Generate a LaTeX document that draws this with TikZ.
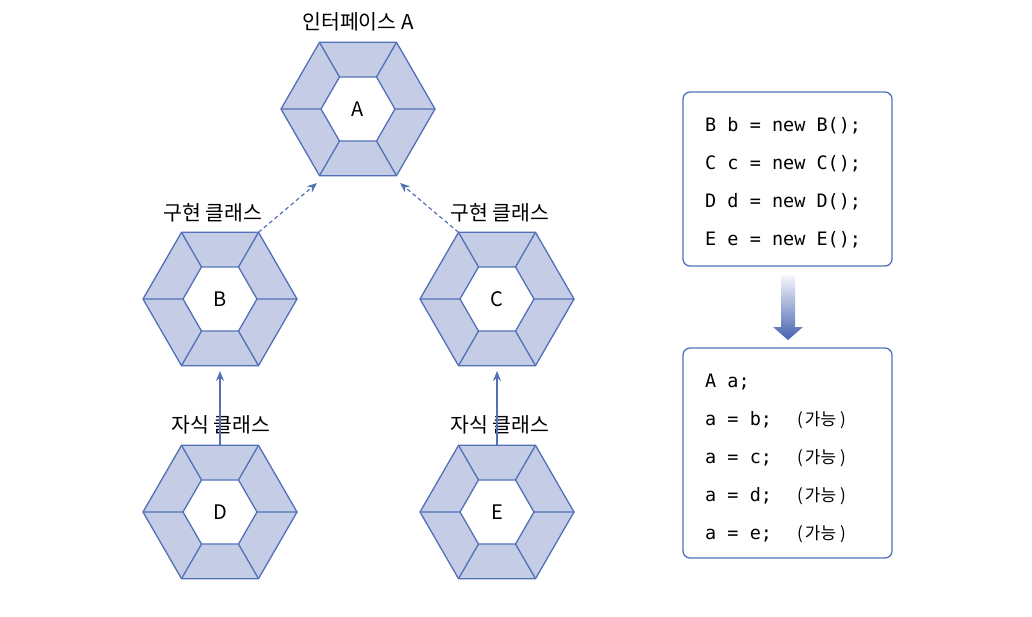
\documentclass[tikz,border=0pt]{standalone}
\usepackage{fontspec}
\setmainfont{Noto Sans}
\newfontfamily\cjk{Noto Sans CJK KR}
\setmonofont{DejaVu Sans Mono}
\usetikzlibrary{shapes.geometric,arrows.meta}
\definecolor{hexfill}{RGB}{196,204,230}
\definecolor{hexline}{RGB}{82,112,183}
\definecolor{arrowblue}{RGB}{68,97,176}
\begin{document}
\begin{tikzpicture}[x=1pt,y=-1pt,
  hexout/.style={regular polygon, regular polygon sides=6, minimum size=154pt, inner sep=0pt, outer sep=0pt, draw=hexline, fill=hexfill, line width=1.3pt},
  hexin/.style={regular polygon, regular polygon sides=6, minimum size=74pt, inner sep=0pt, outer sep=0pt, draw=hexline, fill=white, line width=1.3pt, font=\cjk\fontsize{20}{22}\selectfont},
  lbl/.style={font=\cjk\fontsize{20.5}{22}\selectfont, inner sep=0pt},
  codebox/.style={draw=hexline, line width=1.3pt, rounded corners=7pt, minimum width=209pt, inner sep=0pt},
  code/.style={anchor=base west, inner sep=0pt, font=\ttfamily\fontsize{18.5}{20}\selectfont},
  kor/.style={anchor=base west, inner sep=0pt, font=\cjk\fontsize{17}{19}\selectfont},
  conn/.style={draw=hexline, line width=1.2pt, -{Stealth[length=10pt,width=8pt]}},
  dconn/.style={conn, dash pattern=on 4pt off 3pt}
]
\useasboundingbox (0,0) rectangle (1032,616);

% hexagons
\foreach \n/\x/\y in {A/358/109, B/220/299, C/497/299, D/220/512, E/497/512}{
  \node[hexout] (\n) at (\x,\y) {};
  \node[hexin] (\n i) at (\x,\y) {\n};
  \foreach \a in {0,60,...,300}{
    \draw[hexline, line width=1.3pt] (\n.\a) -- (\n i.\a);
  }
}

% labels
\node[lbl] (lA) at (358,22) {인터페이스 A};
\node[lbl] (lB) at (213,213) {구현 클래스};
\node[lbl] (lC) at (500,213) {구현 클래스};
\node[lbl] (lD) at (221,425) {자식 클래스};
\node[lbl] (lE) at (500,425) {자식 클래스};

% connectors
\coordinate (tAB) at (317,183);
\coordinate (tAC) at (400,183);
\draw[dconn] (B.60) -- (tAB);
\draw[dconn] (C.120) -- (tAC);
\coordinate (tB) at (220,371);
\coordinate (tC) at (497,371);
\draw[conn] (D.north) -- (tB);
\draw[conn] (E.north) -- (tC);

% code boxes
\node[codebox, minimum height=174pt] (box1) at (787.5,179) {};
\node[code] (c1) at (705,131) {B b = new B();};
\node[code] (c2) at (705,169) {C c = new C();};
\node[code] (c3) at (705,207) {D d = new D();};
\node[code] (c4) at (705,245) {E e = new E();};

\node[codebox, minimum height=210pt] (box2) at (787.5,453) {};
\node[code] (d1) at (705,387) {A a;};
\node[code] (d2) at (705,425) {a = b;};
\node[code] (d3) at (705,463) {a = c;};
\node[code] (d4) at (705,501) {a = d;};
\node[code] (d5) at (705,539) {a = e;};
\node[kor] (k2) at (797,425) {(\hspace{2pt}가능\hspace{4pt})};
\node[kor] (k3) at (797,463) {(\hspace{2pt}가능\hspace{4pt})};
\node[kor] (k4) at (797,501) {(\hspace{2pt}가능\hspace{4pt})};
\node[kor] (k5) at (797,539) {(\hspace{2pt}가능\hspace{4pt})};

% gradient arrow
\shade[top color=hexfill!15, bottom color=arrowblue]
  (781,275) -- (795,275) -- (795,327) -- (803,327) -- (788,340) -- (773,327) -- (781,327) -- cycle;
\end{tikzpicture}
\end{document}
